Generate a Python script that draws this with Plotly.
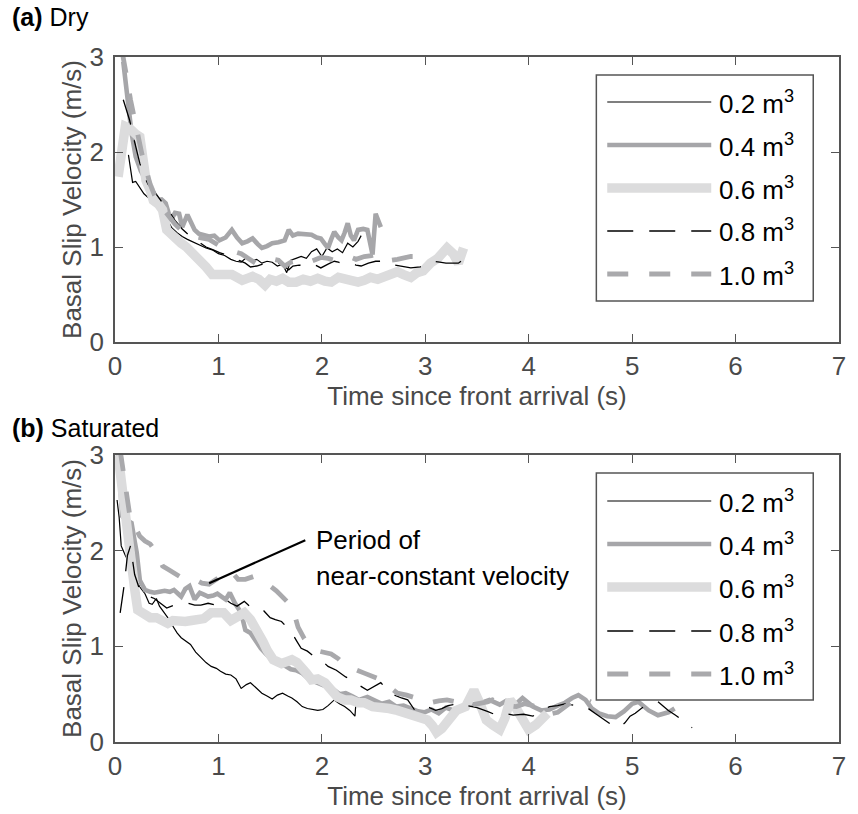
import plotly.graph_objects as go
from plotly.subplots import make_subplots

# ---------------- data: (a) Dry ----------------
dry_t_02 = [0.13, 0.17, 0.20, 0.24, 0.28, 0.32, 0.36, 0.40, 0.45, 0.50, 0.55, 0.60, 0.65, 0.70, 0.76, 0.82, 0.88, 0.94, 1.00, 1.06,
            1.12, 1.17, 1.22, 1.27, 1.32, 1.37, 1.42, 1.47, 1.52, 1.57, 1.62, 1.66, 1.70, 1.75, 1.80, 1.85, 1.90, 1.95, 2.00, 2.05,
            2.10, 2.15, 2.20, 2.25, 2.30, 2.35, 2.38]
dry_v_02 = [1.97, 1.68, 1.69, 1.62, 1.56, 1.52, 1.50, 1.46, 1.40, 1.30, 1.20, 1.15, 1.11, 1.08, 1.05, 1.02, 0.99, 0.97, 0.93, 0.91,
            0.87, 0.85, 0.84, 0.89, 0.85, 0.87, 0.83, 0.85, 0.84, 0.80, 0.82, 0.73, 0.86, 0.88, 0.90, 0.88, 0.95, 0.98, 0.90, 0.99,
            0.95, 0.98, 0.94, 1.04, 1.00, 1.06, 1.12]

dry_t_04 = [0.08, 0.12, 0.16, 0.20, 0.25, 0.30, 0.35, 0.40, 0.45, 0.49, 0.54, 0.58, 0.62, 0.65, 0.70, 0.74, 0.77, 0.81, 0.86, 0.91,
            0.96, 1.01, 1.07, 1.13, 1.18, 1.23, 1.28, 1.33, 1.38, 1.42, 1.47, 1.52, 1.58, 1.64, 1.68, 1.72, 1.77, 1.83, 1.90, 1.95,
            1.99, 2.03, 2.06, 2.09, 2.12, 2.16, 2.19, 2.22, 2.25, 2.28, 2.31, 2.35, 2.40, 2.44, 2.47, 2.49, 2.52, 2.57]
dry_v_04 = [2.95, 2.55, 2.20, 1.95, 1.80, 1.70, 1.60, 1.49, 1.50, 1.46, 1.28, 1.36, 1.35, 1.21, 1.34, 1.25, 1.18, 1.14, 1.13, 1.11,
            1.12, 1.07, 1.10, 1.18, 1.10, 1.04, 1.06, 1.09, 1.03, 0.99, 1.01, 1.04, 1.05, 1.07, 1.18, 1.12, 1.14, 1.14, 1.13, 1.10,
            1.09, 1.03, 0.99, 1.08, 1.16, 1.10, 1.07, 1.15, 1.25, 1.12, 1.07, 1.18, 1.19, 1.18, 1.05, 0.92, 1.35, 1.21]

dry_t_06 = [0.03, 0.07, 0.10, 0.14, 0.17, 0.21, 0.24, 0.27, 0.30, 0.34, 0.37, 0.42, 0.46, 0.50, 0.55, 0.59, 0.64, 0.69, 0.74, 0.78,
            0.83, 0.88, 0.94, 1.00, 1.06, 1.13, 1.18, 1.23, 1.28, 1.33, 1.39, 1.45, 1.50, 1.56, 1.62, 1.68, 1.75, 1.82, 1.89, 1.96,
            2.03, 2.09, 2.16, 2.22, 2.28, 2.35, 2.41, 2.47, 2.54, 2.60, 2.67, 2.73, 2.79, 2.86, 2.92, 2.98, 3.05, 3.12, 3.21, 3.27,
            3.32, 3.37]
dry_v_06 = [1.74, 2.00, 2.27, 2.25, 2.21, 2.18, 2.16, 1.95, 1.70, 1.60, 1.49, 1.45, 1.39, 1.18, 1.12, 1.07, 1.04, 1.00, 0.95, 0.90,
            0.84, 0.79, 0.71, 0.72, 0.71, 0.71, 0.69, 0.65, 0.67, 0.69, 0.66, 0.60, 0.66, 0.64, 0.67, 0.63, 0.63, 0.66, 0.64, 0.67,
            0.64, 0.63, 0.68, 0.67, 0.64, 0.63, 0.65, 0.68, 0.66, 0.69, 0.70, 0.74, 0.71, 0.68, 0.73, 0.75, 0.83, 0.88, 0.99, 0.93,
            0.83, 0.99]

dry_t_08 = [0.08, 0.11, 0.14, 0.18, 0.21, 0.24, 0.28, 0.32, 0.37, 0.42, 0.47, 0.52, 0.58, 0.65, 0.72, 0.80, 0.88, 0.95, 1.01, 1.07,
            1.13, 1.20, 1.26, 1.31, 1.37, 1.43, 1.50, 1.56, 1.62, 1.68, 1.72, 1.78, 1.85, 1.92, 1.99, 2.06, 2.12, 2.16, 2.22, 2.28,
            2.33, 2.38, 2.45, 2.52, 2.60, 2.65, 2.70, 2.78, 2.86, 2.95, 3.02, 3.08, 3.14, 3.20, 3.26, 3.32, 3.38]
dry_v_08 = [2.55, 2.45, 2.34, 2.15, 2.00, 1.88, 1.75, 1.66, 1.60, 1.52, 1.45, 1.38, 1.28, 1.19, 1.12, 1.06, 1.00, 0.97, 0.94, 0.92,
            0.90, 0.86, 0.83, 0.79, 0.80, 0.82, 0.82, 0.84, 0.81, 0.76, 0.80, 0.81, 0.80, 0.82, 0.78, 0.82, 0.85, 0.84, 0.82, 0.83,
            0.81, 0.80, 0.83, 0.85, 0.85, 0.82, 0.81, 0.80, 0.78, 0.79, 0.82, 0.85, 0.84, 0.83, 0.83, 0.83, 0.88]

dry_t_10 = [0.07, 0.09, 0.12, 0.15, 0.18, 0.22, 0.26, 0.30, 0.34, 0.38, 0.43, 0.48, 0.53, 0.58, 0.64, 0.70, 0.77, 0.84, 0.91, 0.97,
            1.03, 1.10, 1.16, 1.22, 1.29, 1.36, 1.43, 1.50, 1.58, 1.64, 1.70, 1.78, 1.85, 1.92, 1.99, 2.06, 2.12, 2.19, 2.26, 2.33,
            2.41, 2.48, 2.54, 2.61, 2.67, 2.73, 2.80, 2.86, 2.90]
dry_v_10 = [3.05, 2.90, 2.75, 2.55, 2.40, 2.15, 1.98, 1.82, 1.66, 1.55, 1.45, 1.38, 1.30, 1.24, 1.18, 1.13, 1.11, 1.09, 1.08, 1.04,
            1.00, 0.97, 0.95, 0.93, 0.88, 0.83, 0.85, 0.88, 0.86, 0.80, 0.84, 0.86, 0.83, 0.86, 0.89, 0.88, 0.86, 0.89, 0.90, 0.87,
            0.90, 0.91, 0.93, 0.88, 0.86, 0.87, 0.89, 0.90, 0.90]

# ---------------- data: (b) Saturated ----------------
sat_t_02 = [0.02, 0.04, 0.06, 0.10, 0.14, 0.19, 0.24, 0.29, 0.33, 0.36, 0.40, 0.43, 0.47, 0.51, 0.56, 0.60, 0.64, 0.69, 0.73, 0.78,
            0.83, 0.88, 0.93, 0.98, 1.02, 1.07, 1.12, 1.17, 1.22, 1.27, 1.31, 1.36, 1.42, 1.47, 1.52, 1.57, 1.62, 1.67, 1.71, 1.76,
            1.81, 1.86, 1.91, 1.96, 2.01, 2.06, 2.12, 2.17, 2.22, 2.27, 2.32, 2.33]
sat_v_02 = [2.53, 2.35, 2.05, 1.95, 1.87, 1.72, 1.62, 1.55, 1.45, 1.44, 1.50, 1.42, 1.36, 1.30, 1.21, 1.14, 1.09, 1.05, 1.02, 0.94,
            0.88, 0.83, 0.79, 0.77, 0.74, 0.71, 0.70, 0.66, 0.56, 0.60, 0.62, 0.57, 0.51, 0.48, 0.45, 0.49, 0.51, 0.48, 0.46, 0.42,
            0.37, 0.35, 0.34, 0.33, 0.34, 0.38, 0.44, 0.40, 0.37, 0.33, 0.27, 0.42]

sat_t_04 = [0.03, 0.05, 0.07, 0.11, 0.16, 0.19, 0.21, 0.24, 0.29, 0.34, 0.38, 0.43, 0.48, 0.53, 0.57, 0.61, 0.64, 0.68, 0.72, 0.77,
            0.82, 0.86, 0.90, 0.95, 0.99, 1.03, 1.07, 1.11, 1.16, 1.22, 1.26, 1.31, 1.36, 1.41, 1.46, 1.52, 1.58, 1.64, 1.70, 1.75,
            1.81, 1.87, 1.93, 1.99, 2.05, 2.11, 2.17, 2.23, 2.29, 2.36, 2.44, 2.51, 2.58, 2.65, 2.72, 2.79, 2.86, 2.93, 2.99, 3.06,
            3.13, 3.20, 3.27, 3.34, 3.43, 3.52, 3.62, 3.72, 3.78, 3.88, 3.94, 4.04, 4.12, 4.20, 4.28, 4.35, 4.42, 4.48, 4.55, 4.61,
            4.68, 4.76, 4.84, 4.92, 5.00, 5.06, 5.16, 5.25, 5.35, 5.41]
sat_v_04 = [3.00, 2.70, 2.36, 2.32, 2.29, 2.10, 1.98, 1.69, 1.59, 1.57, 1.56, 1.57, 1.58, 1.57, 1.59, 1.55, 1.52, 1.60, 1.63, 1.49,
            1.56, 1.54, 1.52, 1.53, 1.55, 1.52, 1.49, 1.56, 1.45, 1.35, 1.17, 1.14, 1.05, 0.98, 0.92, 0.86, 0.82, 0.80, 0.76, 0.75,
            0.72, 0.66, 0.63, 0.60, 0.57, 0.55, 0.50, 0.51, 0.48, 0.44, 0.47, 0.44, 0.40, 0.42, 0.37, 0.38, 0.35, 0.32, 0.31, 0.34,
            0.30, 0.36, 0.33, 0.37, 0.39, 0.40, 0.44, 0.39, 0.43, 0.40, 0.46, 0.37, 0.33, 0.34, 0.38, 0.41, 0.46, 0.49, 0.44, 0.35,
            0.30, 0.27, 0.26, 0.32, 0.40, 0.42, 0.33, 0.28, 0.31, 0.35]

sat_t_06 = [0.03, 0.07, 0.11, 0.15, 0.19, 0.22, 0.25, 0.29, 0.34, 0.40, 0.45, 0.51, 0.56, 0.62, 0.68, 0.74, 0.80, 0.86, 0.93, 0.99,
            1.05, 1.12, 1.18, 1.25, 1.31, 1.38, 1.43, 1.47, 1.53, 1.57, 1.61, 1.66, 1.71, 1.76, 1.80, 1.85, 1.90, 1.96, 2.03, 2.09,
            2.15, 2.22, 2.28, 2.35, 2.41, 2.49, 2.57, 2.65, 2.73, 2.81, 2.89, 2.96, 3.02, 3.07, 3.11, 3.16, 3.22, 3.30, 3.39, 3.44,
            3.47, 3.53, 3.59, 3.65, 3.72, 3.77, 3.82, 3.88, 3.95, 4.00, 4.07, 4.13, 4.18]
sat_v_06 = [3.00, 2.60, 2.30, 2.00, 1.60, 1.38, 1.36, 1.31, 1.30, 1.30, 1.27, 1.24, 1.27, 1.26, 1.26, 1.27, 1.27, 1.29, 1.35, 1.34,
            1.35, 1.27, 1.30, 1.35, 1.28, 1.17, 1.05, 0.96, 0.86, 0.84, 0.82, 0.84, 0.86, 0.83, 0.79, 0.72, 0.65, 0.66, 0.62, 0.54,
            0.47, 0.44, 0.44, 0.41, 0.41, 0.37, 0.37, 0.35, 0.33, 0.30, 0.26, 0.24, 0.23, 0.17, 0.10, 0.14, 0.23, 0.33, 0.37, 0.45,
            0.54, 0.40, 0.23, 0.18, 0.13, 0.25, 0.44, 0.35, 0.20, 0.13, 0.18, 0.23, 0.30]

sat_t_08 = [0.05, 0.09, 0.12, 0.15, 0.19, 0.23, 0.28, 0.33, 0.38, 0.44, 0.50, 0.57, 0.64, 0.71, 0.77, 0.83, 0.90, 0.98, 1.07, 1.12,
            1.18, 1.25, 1.34, 1.44, 1.50, 1.55, 1.61, 1.66, 1.71, 1.76, 1.80, 1.86, 1.93, 2.00, 2.06, 2.14, 2.23, 2.29, 2.35, 2.44,
            2.51, 2.57, 2.63, 2.70, 2.77, 2.83, 2.90, 2.96, 3.04, 3.10, 3.16, 3.22, 3.27, 3.33, 3.40, 3.50, 3.60, 3.69, 3.77, 3.85,
            3.95, 4.04, 4.12, 4.20, 4.28, 4.36, 4.45, 4.55, 4.64, 4.74, 4.80, 4.87, 4.93, 4.98, 5.03, 5.10, 5.18, 5.25, 5.30, 5.35,
            5.42, 5.48, 5.53, 5.58]
sat_v_08 = [1.35, 1.65, 1.95, 2.05, 1.75, 1.62, 1.58, 1.52, 1.50, 1.45, 1.40, 1.43, 1.45, 1.45, 1.43, 1.43, 1.45, 1.43, 1.49, 1.45,
            1.42, 1.47, 1.38, 1.37, 1.30, 1.28, 1.26, 1.20, 1.14, 1.05, 0.98, 0.95, 0.89, 0.85, 0.79, 0.75, 0.68, 0.65, 0.60, 0.54,
            0.58, 0.62, 0.55, 0.49, 0.46, 0.44, 0.33, 0.37, 0.36, 0.33, 0.35, 0.38, 0.39, 0.36, 0.38, 0.36, 0.32, 0.28, 0.30, 0.28,
            0.29, 0.27, 0.32, 0.37, 0.38, 0.40, 0.38, 0.37, 0.30, 0.23, 0.18, 0.15, 0.20, 0.27, 0.30, 0.36, 0.40, 0.42, 0.37, 0.33,
            0.28, 0.23, 0.19, 0.15]

sat_t_10 = [0.05, 0.08, 0.11, 0.14, 0.18, 0.24, 0.29, 0.34, 0.40, 0.46, 0.52, 0.58, 0.64, 0.70, 0.77, 0.84, 0.91, 0.98, 1.05, 1.12,
            1.19, 1.26, 1.34, 1.42, 1.50, 1.56, 1.62, 1.68, 1.73, 1.77, 1.83, 1.90, 1.97, 2.03, 2.09, 2.16, 2.22, 2.28, 2.34, 2.41,
            2.49, 2.57, 2.65, 2.73, 2.82, 2.92, 2.98, 3.05, 3.13, 3.21, 3.30, 3.39, 3.46, 3.53, 3.60, 3.65, 3.72, 3.80, 3.88, 3.96,
            4.04, 4.12, 4.20, 4.28, 4.36, 4.44, 4.52, 4.60]
sat_v_10 = [3.05, 2.80, 2.55, 2.39, 2.28, 2.15, 2.10, 2.07, 1.98, 1.84, 1.80, 1.76, 1.72, 1.70, 1.70, 1.66, 1.65, 1.70, 1.76, 1.79,
            1.70, 1.70, 1.73, 1.67, 1.63, 1.58, 1.52, 1.45, 1.35, 1.20, 1.08, 0.99, 0.95, 0.93, 0.92, 0.87, 0.81, 0.79, 0.75, 0.72,
            0.69, 0.65, 0.58, 0.51, 0.49, 0.46, 0.43, 0.41, 0.43, 0.44, 0.42, 0.37, 0.39, 0.40, 0.42, 0.44, 0.41, 0.38, 0.37, 0.40,
            0.38, 0.33, 0.29, 0.31, 0.38, 0.44, 0.46, 0.42]

series_labels = ["0.2 m<sup>3</sup>", "0.4 m<sup>3</sup>", "0.6 m<sup>3</sup>", "0.8 m<sup>3</sup>", "1.0 m<sup>3</sup>"]
x_ticks = [0, 1, 2, 3, 4, 5, 6, 7]
y_ticks = [0, 1, 2, 3]
annot_line_t = [0.91, 1.84]
annot_line_v = [1.66, 2.11]

# ---------------- styles ----------------
styles = [
    dict(color="#000000", width=1.2, dash="solid"),
    dict(color="#A6A6A9", width=4.6, dash="solid"),
    dict(color="#DCDCDD", width=9.5, dash="solid"),
    dict(color="#000000", width=1.3, dash="26px,16px"),
    dict(color="#A9A9AC", width=4.8, dash="21px,21px"),
]

dry = [(dry_t_02, dry_v_02), (dry_t_04, dry_v_04), (dry_t_06, dry_v_06), (dry_t_08, dry_v_08), (dry_t_10, dry_v_10)]
sat = [(sat_t_02, sat_v_02), (sat_t_04, sat_v_04), (sat_t_06, sat_v_06), (sat_t_08, sat_v_08), (sat_t_10, sat_v_10)]
for t, v in dry + sat:
    assert len(t) == len(v), (len(t), len(v))

W, H = 858, 814
ML, MR, MT, MB = 115, 12, 57, 72
PW, PH = W - ML - MR, H - MT - MB

def fx(px):
    return (px - ML) / PW

def fy(py):
    return (H - MB - py) / PH

top_dom = [fy(342), 1.0]
bot_dom = [0.0, fy(455)]

fig = make_subplots(rows=2, cols=1)

for row, data in ((1, dry), (2, sat)):
    for (t, v), st, name in zip(data, styles, series_labels):
        fig.add_trace(go.Scatter(x=t, y=v, mode="lines", name=name, showlegend=False,
                                 line=dict(color=st["color"], width=st["width"], dash=st["dash"]),
                                 hoverinfo="skip"), row=row, col=1)

FONT = "Liberation Sans, Arial, Helvetica, sans-serif"
AX_COL = "#555555"
TXT_COL = "#4a4a4a"

axis_common = dict(showgrid=False, zeroline=False, showline=True, linecolor=AX_COL, linewidth=1.5,
                   mirror="ticks", ticks="inside", ticklen=8, tickwidth=1.2, tickcolor=AX_COL,
                   tickfont=dict(family=FONT, size=26, color=TXT_COL))

fig.update_xaxes(range=[0, 7], tickvals=x_ticks, **axis_common)
fig.update_yaxes(range=[0, 3], tickvals=y_ticks, ticklabelstandoff=4, **axis_common)
for r in (1, 2):
    fig.update_xaxes(title=dict(text="Time since front arrival (s)", font=dict(family=FONT, size=26, color=TXT_COL),
                                standoff=3), row=r, col=1)
    fig.update_yaxes(title=dict(text="Basal Slip Velocity (m/s)", font=dict(family=FONT, size=26, color=TXT_COL),
                                standoff=0), row=r, col=1)

fig.update_layout(
    width=W, height=H, margin=dict(l=ML, r=MR, t=MT, b=MB),
    paper_bgcolor="white", plot_bgcolor="white", showlegend=False,
    yaxis=dict(domain=top_dom), yaxis2=dict(domain=bot_dom),
    xaxis=dict(domain=[0, 1]), xaxis2=dict(domain=[0, 1]),
)

shapes = []
annotations = []

# panel labels
annotations.append(dict(xref="paper", yref="paper", x=fx(9), y=fy(17), xanchor="left", yanchor="middle",
                        text="<b>(a)</b> Dry", showarrow=False, font=dict(family=FONT, size=25, color="#000")))
annotations.append(dict(xref="paper", yref="paper", x=fx(9), y=fy(428), xanchor="left", yanchor="middle",
                        text="<b>(b)</b> Saturated", showarrow=False, font=dict(family=FONT, size=25, color="#000")))

# custom legends (box + samples + labels)
legend_boxes = [(75, 301, [102, 145, 188, 231, 274]), (473, 700, [501, 544, 587, 631, 674])]
for top, bot, rows in legend_boxes:
    shapes.append(dict(type="rect", xref="paper", yref="paper", x0=fx(601), x1=fx(820), y0=fy(bot), y1=fy(top),
                       line=dict(color=AX_COL, width=1.5), fillcolor="white", layer="above"))
    for ry, st, name in zip(rows, styles, series_labels):
        shapes.append(dict(type="line", xref="paper", yref="paper", x0=fx(612), x1=fx(717), y0=fy(ry), y1=fy(ry),
                           line=dict(color=st["color"], width=st["width"], dash=st["dash"]), layer="above"))
        annotations.append(dict(xref="paper", yref="paper", x=fx(723), y=fy(ry), xanchor="left", yanchor="middle",
                                text=name, showarrow=False, font=dict(family=FONT, size=26, color="#000")))

# annotation in panel (b)
shapes.append(dict(type="line", xref="x2", yref="y2", x0=annot_line_t[0], x1=annot_line_t[1],
                   y0=annot_line_v[0], y1=annot_line_v[1], line=dict(color="#000", width=2.2), layer="above"))
annotations.append(dict(xref="x2", yref="y2", x=1.92, y=2.11, xanchor="left", yanchor="middle",
                        text="Period of", showarrow=False, font=dict(family=FONT, size=26, color="#000")))
annotations.append(dict(xref="x2", yref="y2", x=1.92, y=1.74, xanchor="left", yanchor="middle",
                        text="near-constant velocity", showarrow=False, font=dict(family=FONT, size=26, color="#000")))

fig.update_layout(shapes=shapes, annotations=annotations)

fig.write_html("out.html")
